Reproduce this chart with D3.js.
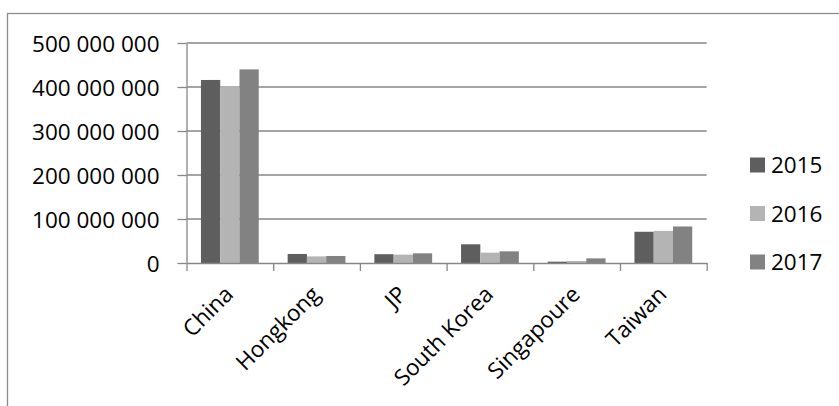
<!DOCTYPE html>
<html>
<head>
<meta charset="utf-8">
<script src="https://cdn.jsdelivr.net/npm/d3@7"></script>
<style>
  html, body { margin: 0; padding: 0; background: #fff; }
  svg { display: block; font-family: "Open Sans", Lato, sans-serif; }
</style>
</head>
<body>
<svg id="chart" width="839" height="406"></svg>
<script>
// Visitors by origin, 2015–2017
const categories = ["China", "Hongkong", "JP", "South Korea", "Singapoure", "Taiwan"];
const years = ["2015", "2016", "2017"];
const values2015 = [416000000, 20500000, 20000000, 42500000, 3000000, 71000000];
const values2016 = [402000000, 15000000, 19000000, 23500000, 4500000, 73000000];
const values2017 = [440000000, 16000000, 22000000, 26500000, 10500000, 83000000];
const yTicks = [0, 100000000, 200000000, 300000000, 400000000, 500000000];
const colors = ["#5e5e5e", "#b4b4b4", "#828282"];

const series = [values2015, values2016, values2017];

const svg = d3.select("#chart");
const fontSize = 22.5;
const fontFamily = "'Open Sans', Lato, sans-serif";
const gridColor = "#878787";

// outer frame of the chart area
svg.append("rect")
  .attr("x", 7.5).attr("y", 13.5)
  .attr("width", 900).attr("height", 500)
  .attr("fill", "none").attr("stroke", "#8c8c8c").attr("stroke-width", 1.3);

const plot = { left: 186.5, right: 706.7, top: 43, bottom: 263 };

const x = d3.scaleBand()
  .domain(categories)
  .range([plot.left, plot.right])
  .paddingInner(0).paddingOuter(0);

const xInner = d3.scaleBand()
  .domain(years)
  .range([0, x.bandwidth()])
  .paddingInner(0).paddingOuter(0.75);

const y = d3.scaleLinear()
  .domain([0, 500000000])
  .range([plot.bottom, plot.top]);

// horizontal gridlines
svg.append("g")
  .selectAll("line")
  .data(yTicks.filter(d => d > 0))
  .join("line")
  .attr("x1", plot.left).attr("x2", plot.right)
  .attr("y1", d => y(d)).attr("y2", d => y(d))
  .attr("stroke", gridColor).attr("stroke-width", 1.3);

// bars
const groups = svg.append("g")
  .selectAll("g")
  .data(categories)
  .join("g")
  .attr("transform", d => `translate(${x(d)},0)`);

groups.selectAll("rect")
  .data((d, i) => years.map((yr, k) => ({ year: yr, value: series[k][i], k })))
  .join("rect")
  .attr("x", d => xInner(d.year))
  .attr("width", xInner.bandwidth())
  .attr("y", d => y(d.value))
  .attr("height", d => y(0) - y(d.value))
  .attr("fill", d => colors[d.k]);

// y axis
const fmt = v => d3.format(",")(v).replace(/,/g, " ");
const yAxis = svg.append("g")
  .attr("transform", `translate(${plot.left},0)`)
  .call(d3.axisLeft(y).tickValues(yTicks).tickFormat(fmt).tickSize(9).tickSizeOuter(0).tickPadding(18));
yAxis.select(".domain").attr("stroke", gridColor).attr("stroke-width", 1.3);
yAxis.selectAll(".tick line").attr("stroke", gridColor).attr("stroke-width", 1.3);
yAxis.selectAll(".tick text")
  .attr("fill", "#000")
  .attr("dy", "0.36em")
  .style("font-size", fontSize + "px")
  .style("font-family", fontFamily);

// x axis: ticks on category boundaries
const xIdx = d3.scaleLinear().domain([0, categories.length]).range([plot.left, plot.right]);
const xAxis = svg.append("g")
  .attr("transform", `translate(0,${plot.bottom})`)
  .call(d3.axisBottom(xIdx).ticks(categories.length).tickFormat("").tickSize(8).tickSizeOuter(0));
xAxis.select(".domain").attr("stroke", gridColor).attr("stroke-width", 1.3);
xAxis.selectAll(".tick line").attr("stroke", gridColor).attr("stroke-width", 1.3);

// category labels, rotated
svg.append("g")
  .selectAll("text")
  .data(categories)
  .join("text")
  .attr("transform", d => `translate(${x(d) + x.bandwidth() / 2 - 1},${plot.bottom + 27}) rotate(-45)`)
  .attr("text-anchor", "end")
  .attr("dy", "0.36em")
  .style("font-size", fontSize + "px")
  .attr("fill", "#000")
  .text(d => d);

// legend
const legend = svg.append("g")
  .selectAll("g")
  .data(years)
  .join("g")
  .attr("transform", (d, i) => `translate(750,${165 + i * 48.5})`);
legend.append("rect")
  .attr("x", 0).attr("y", -7.5)
  .attr("width", 15).attr("height", 15)
  .attr("fill", (d, i) => colors[i]);
legend.append("text")
  .attr("x", 21).attr("dy", "0.36em")
  .style("font-size", fontSize + "px")
  .attr("fill", "#000")
  .text(d => d);
</script>
</body>
</html>
